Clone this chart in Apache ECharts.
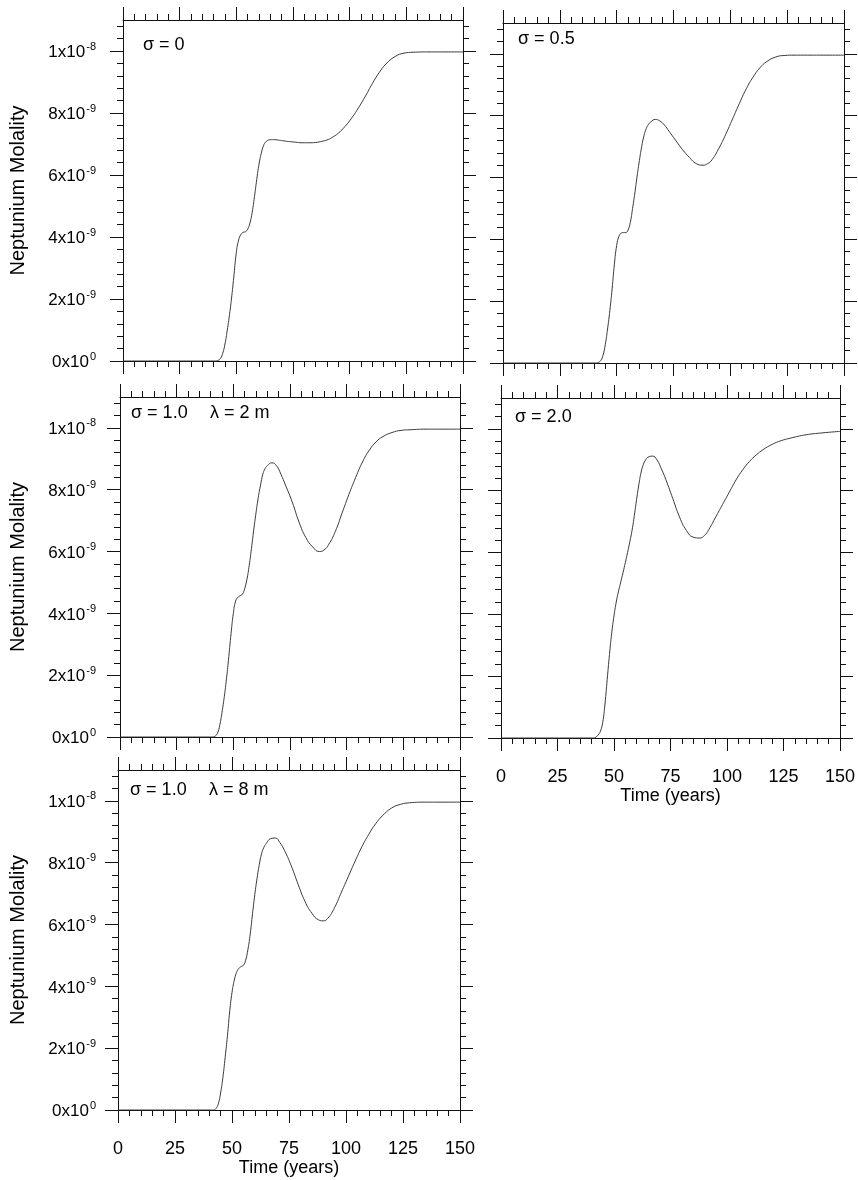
<!DOCTYPE html>
<html>
<head>
<meta charset="utf-8">
<script src="https://cdn.jsdelivr.net/npm/echarts@6/dist/echarts.min.js"></script>
<style>
html,body{margin:0;padding:0;background:#fff;}
#chart{width:858px;height:1180px;}
</style>
</head>
<body>
<div id="chart"></div>
<script>
// ---------- DATA (molality values in units of 1e-9) ----------
const timeYears = [0, 20, 40, 41, 42, 43, 44, 45, 46, 47, 48, 49, 50, 51, 52, 53, 54, 55, 56, 57, 58, 59, 60, 61, 62, 63, 64, 65, 67, 69, 71, 73, 76, 79, 82, 85, 88, 90, 92, 95, 98, 101, 104, 107, 110, 113, 116, 120, 124, 128, 135, 142, 150];

const sigma0 = [0, 0, 0, 0, 0.02, 0.08, 0.25, 0.55, 1.0, 1.5, 2.1, 2.8, 3.5, 3.9, 4.08, 4.15, 4.17, 4.25, 4.45, 4.8, 5.3, 5.85, 6.35, 6.7, 6.95, 7.07, 7.12, 7.14, 7.14, 7.12, 7.1, 7.08, 7.06, 7.04, 7.04, 7.05, 7.09, 7.13, 7.2, 7.35, 7.57, 7.85, 8.18, 8.55, 8.95, 9.3, 9.58, 9.82, 9.93, 9.96, 9.97, 9.97, 9.97];

const sigma05 = [0, 0, 0, 0, 0.02, 0.08, 0.25, 0.6, 1.1, 1.7, 2.4, 3.2, 3.8, 4.1, 4.2, 4.22, 4.22, 4.3, 4.55, 5.0, 5.5, 6.05, 6.55, 7.0, 7.35, 7.58, 7.72, 7.8, 7.88, 7.83, 7.7, 7.5, 7.2, 6.9, 6.65, 6.45, 6.4, 6.45, 6.58, 6.95, 7.4, 7.9, 8.4, 8.87, 9.25, 9.55, 9.75, 9.9, 9.95, 9.96, 9.96, 9.96, 9.96];

const sigma1lambda2 = [0, 0, 0, 0, 0.03, 0.12, 0.38, 0.8, 1.3, 1.9, 2.6, 3.35, 4.0, 4.4, 4.52, 4.57, 4.62, 4.8, 5.1, 5.55, 6.1, 6.7, 7.25, 7.75, 8.15, 8.5, 8.68, 8.78, 8.87, 8.78, 8.5, 8.15, 7.6, 6.95, 6.45, 6.15, 6.0, 6.05, 6.22, 6.65, 7.25, 7.85, 8.4, 8.9, 9.28, 9.55, 9.72, 9.85, 9.92, 9.94, 9.96, 9.96, 9.96];

const sigma2 = [0, 0, 0, 0, 0.03, 0.1, 0.22, 0.5, 1.1, 1.9, 2.7, 3.4, 3.95, 4.4, 4.75, 5.05, 5.35, 5.67, 6.0, 6.35, 6.72, 7.2, 7.72, 8.2, 8.6, 8.85, 9.0, 9.08, 9.12, 9.0, 8.7, 8.35, 7.75, 7.15, 6.72, 6.5, 6.47, 6.55, 6.75, 7.15, 7.55, 7.95, 8.35, 8.68, 8.95, 9.16, 9.33, 9.5, 9.62, 9.7, 9.81, 9.87, 9.92];

const sigma1lambda8 = [0, 0, 0, 0, 0, 0.05, 0.2, 0.55, 1.05, 1.7, 2.4, 3.2, 3.8, 4.2, 4.45, 4.58, 4.64, 4.68, 4.85, 5.2, 5.7, 6.35, 6.97, 7.5, 7.95, 8.3, 8.5, 8.62, 8.78, 8.8, 8.65, 8.4, 7.9, 7.3, 6.75, 6.37, 6.15, 6.12, 6.2, 6.55, 7.05, 7.55, 8.05, 8.52, 8.92, 9.26, 9.52, 9.77, 9.89, 9.94, 9.96, 9.96, 9.96];

const panelSeries = [sigma0, sigma05, sigma1lambda2, sigma2, sigma1lambda8];
const panelSigmaText = ['σ = 0', 'σ = 0.5', 'σ = 1.0', 'σ = 2.0', 'σ = 1.0'];
const panelLambdaText = ['', '', 'λ = 2 m', '', 'λ = 8 m'];

const xMajorTicks = [0, 25, 50, 75, 100, 125, 150];
const xMinorTicks = [5, 10, 15, 20, 30, 35, 40, 45, 55, 60, 65, 70, 80, 85, 90, 95, 105, 110, 115, 120, 130, 135, 140, 145];
const yMajorTicks = [0, 2, 4, 6, 8, 10];
const yMinorTicks = [0.4, 0.8, 1.2, 1.6, 2.4, 2.8, 3.2, 3.6, 4.4, 4.8, 5.2, 5.6, 6.4, 6.8, 7.2, 7.6, 8.4, 8.8, 9.2, 9.6, 10.4, 10.8];
const yTickMantissa = ['0', '2', '4', '6', '8', '1'];
const yTickExponent = ['0', '-9', '-9', '-9', '-9', '-8'];

const xAxisTitle = 'Time (years)';
const yAxisTitle = 'Neptunium Molality';

// ---------- LAYOUT ----------
const FONT = '"Liberation Sans", Arial, Helvetica, sans-serif';
const AX = '#111';
const layout = [
  {left: 123, top: 20,  width: 340, height: 341, yLab: true,  xLab: false, tx: 143, ty: 36,  lx: 0},
  {left: 503, top: 23,  width: 341, height: 340, yLab: false, xLab: false, tx: 518, ty: 30,  lx: 0},
  {left: 120, top: 397, width: 340, height: 340, yLab: true,  xLab: false, tx: 131, ty: 404, lx: 210},
  {left: 501, top: 398, width: 341, height: 340, yLab: false, xLab: true,  tx: 515, ty: 408, lx: 0},
  {left: 118, top: 770, width: 342, height: 340, yLab: true,  xLab: true,  tx: 130, ty: 781, lx: 209}
];

const grid = [], xAxis = [], yAxis = [], series = [], title = [];

function yLabelFormatter(v) {
  const i = yMajorTicks.indexOf(Math.round(v * 1000) / 1000);
  if (i < 0) return '';
  return '{b|' + yTickMantissa[i] + 'x10}{s|' + yTickExponent[i] + '}';
}

layout.forEach((L, g) => {
  grid.push({left: L.left, top: L.top, width: L.width, height: L.height});

  const xb = {gridIndex: g, type: 'value', min: 0, max: 150, splitLine: {show: false}};
  const yb = {gridIndex: g, type: 'value', min: 0, max: 11, splitLine: {show: false}};
  const line = {show: true, onZero: false, lineStyle: {color: AX, width: 1}};
  const noLine = {show: false, onZero: false};
  const tick = (vals, len) => ({show: true, inside: false, length: len, customValues: vals, lineStyle: {color: AX, width: 1}});

  // x axes: bottom major, bottom minor, top major, top minor
  xAxis.push(Object.assign({}, xb, {
    position: 'bottom', axisLine: line, axisTick: tick(xMajorTicks, 13),
    axisLabel: {show: L.xLab, customValues: xMajorTicks, margin: 30, fontSize: 18, color: '#000', fontFamily: FONT},
    name: L.xLab ? xAxisTitle : '', nameLocation: 'middle', nameGap: 47,
    nameTextStyle: {fontSize: 18, color: '#000', fontFamily: FONT}
  }));
  xAxis.push(Object.assign({}, xb, {position: 'bottom', axisLine: noLine, axisTick: tick(xMinorTicks, 6), axisLabel: {show: false}}));
  xAxis.push(Object.assign({}, xb, {position: 'top', axisLine: line, axisTick: tick(xMajorTicks, 13), axisLabel: {show: false}}));
  xAxis.push(Object.assign({}, xb, {position: 'top', axisLine: noLine, axisTick: tick(xMinorTicks, 6), axisLabel: {show: false}}));

  // y axes: left major, left minor, right major, right minor
  yAxis.push(Object.assign({}, yb, {
    position: 'left', axisLine: line, axisTick: tick(yMajorTicks, 13),
    axisLabel: {
      show: L.yLab, customValues: yMajorTicks, margin: L.left - 96, formatter: yLabelFormatter,
      rich: {
        b: {fontSize: 17, color: '#000', fontFamily: FONT, lineHeight: 20, verticalAlign: 'bottom'},
        s: {fontSize: 11, color: '#000', fontFamily: FONT, lineHeight: 20, verticalAlign: 'top', padding: [0, 0, 0, 1]}
      }
    },
    name: L.yLab ? yAxisTitle : '', nameLocation: 'middle', nameGap: L.left - 28, nameRotate: 90,
    nameTextStyle: {fontSize: 20, color: '#000', fontFamily: FONT}
  }));
  yAxis.push(Object.assign({}, yb, {position: 'left', axisLine: noLine, axisTick: tick(yMinorTicks, 6), axisLabel: {show: false}}));
  yAxis.push(Object.assign({}, yb, {position: 'right', axisLine: line, axisTick: tick(yMajorTicks, 13), axisLabel: {show: false}}));
  yAxis.push(Object.assign({}, yb, {position: 'right', axisLine: noLine, axisTick: tick(yMinorTicks, 6), axisLabel: {show: false}}));

  series.push({
    type: 'line', xAxisIndex: g * 4, yAxisIndex: g * 4,
    data: timeYears.map((t, i) => [t, panelSeries[g][i]]),
    showSymbol: false, symbol: 'none', smooth: 0.5,
    lineStyle: {color: '#3a3a3a', width: 1},
    silent: true
  });

  const ts = {fontSize: 18, fontWeight: 'normal', color: '#000', fontFamily: FONT};
  title.push({text: panelSigmaText[g], left: L.tx, top: L.ty, padding: 0, textStyle: ts});
  if (panelLambdaText[g]) {
    title.push({text: panelLambdaText[g], left: L.lx, top: L.ty, padding: 0, textStyle: ts});
  }
});

const chart = echarts.init(document.getElementById('chart'), null, {renderer: 'canvas'});
chart.setOption({
  animation: false,
  backgroundColor: '#fff',
  title: title,
  grid: grid,
  xAxis: xAxis,
  yAxis: yAxis,
  series: series
});
</script>
</body>
</html>
